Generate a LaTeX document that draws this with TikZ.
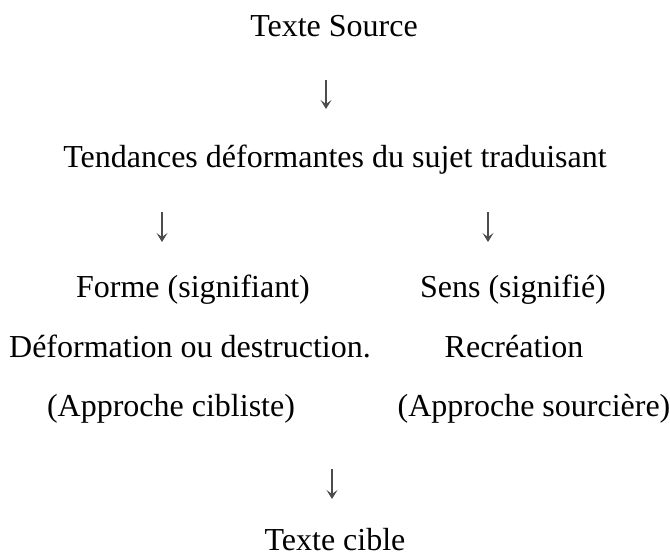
\documentclass[tikz,border=0pt]{standalone}
\usepackage{fontspec}
\setmainfont{Liberation Serif}
\usetikzlibrary{arrows.meta}
\begin{document}
\begin{tikzpicture}[x=1pt,y=-1pt,
  lbl/.style={inner sep=0pt,anchor=base,font=\fontsize{32}{38}\selectfont},
  arr/.style={draw=black!70,line width=1.1pt,-{Stealth[length=9pt,width=11pt,inset=4pt]}}]
\useasboundingbox (0,0) rectangle (670,559);
\node[lbl] (src) at (334,37) {Texte Source};
\node[lbl] (tend) at (335,168) {Tendances déformantes du sujet traduisant};
\node[lbl] (forme) at (193,298) {Forme (signifiant)};
\node[lbl] (sens) at (513,298) {Sens (signifié)};
\node[lbl] (defo) at (190,357) {Déformation ou destruction.};
\node[lbl] (recr) at (514,357) {Recréation};
\node[lbl] (cib) at (171,416) {(Approche cibliste)};
\node[lbl] (sour) at (534,416) {(Approche sourcière)};
\node[lbl] (cible) at (335,550) {Texte cible};
\coordinate (a1s) at (326,80);  \coordinate (a1e) at (326,109);
\coordinate (a2s) at (162,212); \coordinate (a2e) at (162,242);
\coordinate (a3s) at (488,212); \coordinate (a3e) at (488,242);
\coordinate (a4s) at (332,469); \coordinate (a4e) at (332,499);
\draw[arr] (a1s) -- (a1e);
\draw[arr] (a2s) -- (a2e);
\draw[arr] (a3s) -- (a3e);
\draw[arr] (a4s) -- (a4e);
\end{tikzpicture}
\end{document}
